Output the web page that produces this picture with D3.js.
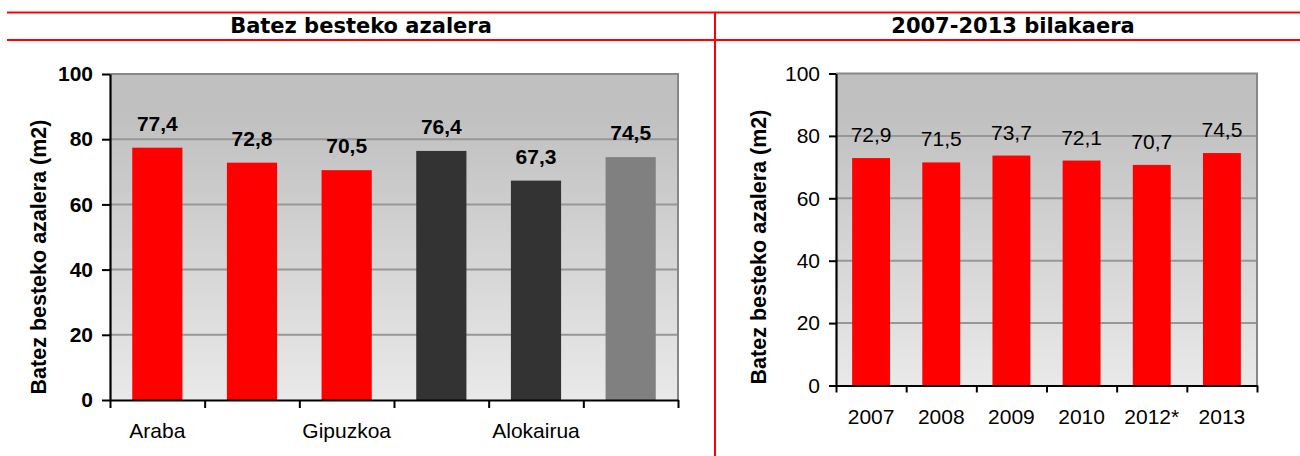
<!DOCTYPE html>
<html>
<head>
<meta charset="utf-8">
<script src="https://cdn.jsdelivr.net/npm/d3@7/dist/d3.min.js"></script>
<style>
  html, body { margin: 0; padding: 0; background: #ffffff; }
  svg { display: block; }
</style>
</head>
<body>
<svg id="chart" width="1300" height="456"></svg>
<script>
// ---- DATA ----
const panelTitles = ["Batez besteko azalera", "2007-2013 bilakaera"];
const yAxisTitle = "Batez besteko azalera (m2)";
const yTicks = [0, 20, 40, 60, 80, 100];

const leftCategories = ["Araba", "Bizkaia", "Gipuzkoa", "Jabetza", "Alokairua", "EAE"];
const leftValues = [77.4, 72.8, 70.5, 76.4, 67.3, 74.5];
const leftGroups = ["lurraldea", "lurraldea", "lurraldea", "erregimena", "erregimena", "guztira"];

const rightCategories = ["2007", "2008", "2009", "2010", "2012*", "2013"];
const rightValues = [72.9, 71.5, 73.7, 72.1, 70.7, 74.5];
const rightGroups = ["urtea", "urtea", "urtea", "urtea", "urtea", "urtea"];

// ---- STYLE ----
const groupColor = d3.scaleOrdinal()
  .domain(["lurraldea", "erregimena", "guztira", "urtea"])
  .range(["#ff0000", "#333333", "#808080", "#ff0000"]);

const locale = d3.formatLocale({ decimal: ",", thousands: ".", grouping: [3], currency: ["", "€"] });
const fmt = locale.format(".1f");

const svg = d3.select("#chart");
const FONT = "'Liberation Sans', Arial, sans-serif";

// gradient background
const defs = svg.append("defs");
const grad = defs.append("linearGradient").attr("id", "bg").attr("x1", 0).attr("y1", 0).attr("x2", 0).attr("y2", 1);
grad.append("stop").attr("offset", "0%").attr("stop-color", "#c0c0c0");
grad.append("stop").attr("offset", "12%").attr("stop-color", "#c0c0c0");
grad.append("stop").attr("offset", "100%").attr("stop-color", "#e9e9e9");

// header frame
const red = "#ff0000";
svg.append("line").attr("x1", 7).attr("x2", 1300).attr("y1", 12.5).attr("y2", 12.5).attr("stroke", red).attr("stroke-width", 2);
svg.append("line").attr("x1", 7).attr("x2", 1300).attr("y1", 40).attr("y2", 40).attr("stroke", red).attr("stroke-width", 2);
svg.append("line").attr("x1", 715).attr("x2", 715).attr("y1", 12).attr("y2", 456).attr("stroke", red).attr("stroke-width", 2);

svg.append("text").attr("x", 361).attr("y", 32.5).attr("text-anchor", "middle")
  .attr("font-family", "'DejaVu Sans', Verdana, sans-serif").attr("font-weight", "bold").attr("font-size", 21)
  .text(panelTitles[0]);
svg.append("text").attr("x", 1013).attr("y", 32.5).attr("text-anchor", "middle")
  .attr("font-family", "'DejaVu Sans', Verdana, sans-serif").attr("font-weight", "bold").attr("font-size", 21)
  .text(panelTitles[1]);

function drawPanel(cfg) {
  const g = svg.append("g");
  const x = d3.scaleBand().domain(cfg.categories).range([cfg.x0, cfg.x1])
    .paddingInner(cfg.pad).paddingOuter(cfg.pad / 2);
  const xEdges = d3.scaleLinear().domain([0, cfg.categories.length]).range([cfg.x0, cfg.x1]);
  const y = d3.scaleLinear().domain([0, 100]).range([cfg.yBottom, cfg.yTop]);

  // plot background
  g.append("rect").attr("x", cfg.x0).attr("y", y(100)).attr("width", cfg.x1 - cfg.x0)
    .attr("height", y(0) - y(100)).attr("fill", "url(#bg)");

  // gridlines
  g.selectAll(".grid").data(yTicks.filter(t => t > 0 && t < 100)).join("line")
    .attr("x1", cfg.x0).attr("x2", cfg.x1).attr("y1", d => y(d)).attr("y2", d => y(d))
    .attr("stroke", "#979797").attr("stroke-width", 2);

  // top and right border
  g.append("path").attr("d", `M${cfg.x0},${y(100)}H${cfg.x1}V${y(0)}`)
    .attr("fill", "none").attr("stroke", "#878787").attr("stroke-width", 2);

  // bars
  g.selectAll(".bar").data(cfg.values).join("rect")
    .attr("x", (d, i) => x(cfg.categories[i]))
    .attr("y", d => y(d))
    .attr("width", x.bandwidth())
    .attr("height", d => y(0) - y(d))
    .attr("fill", (d, i) => groupColor(cfg.groups[i]));

  // value labels
  g.selectAll(".vl").data(cfg.values).join("text")
    .attr("x", (d, i) => x(cfg.categories[i]) + x.bandwidth() / 2)
    .attr("y", d => y(d) - cfg.labelGap)
    .attr("text-anchor", "middle")
    .attr("font-family", FONT).attr("font-size", 21).attr("font-weight", cfg.labelWeight)
    .attr("fill", "#000")
    .text(d => fmt(d));

  // y axis
  const yAxis = g.append("g").attr("transform", `translate(${cfg.x0},0)`)
    .call(d3.axisLeft(y).tickValues(yTicks).tickSize(cfg.tick).tickPadding(9).tickSizeOuter(0));
  yAxis.select(".domain").attr("stroke", "#000").attr("stroke-width", 2.2);
  yAxis.selectAll(".tick line").attr("stroke", "#000").attr("stroke-width", 2);
  yAxis.selectAll(".tick text").attr("font-family", FONT).attr("font-size", 21)
    .attr("font-weight", cfg.tickWeight).attr("fill", "#000");

  // x axis (ticks at category boundaries)
  const xAxis = g.append("g").attr("transform", `translate(0,${y(0)})`)
    .call(d3.axisBottom(xEdges).tickValues(d3.range(cfg.categories.length + 1)).tickSize(cfg.tick).tickFormat("").tickSizeOuter(0));
  xAxis.select(".domain").attr("stroke", "#000").attr("stroke-width", 2.2);
  xAxis.selectAll(".tick line").attr("stroke", "#000").attr("stroke-width", 2);

  // x category labels
  g.selectAll(".xl").data(cfg.categories.filter((c, i) => i % cfg.labelEvery === 0)).join("text")
    .attr("x", d => x(d) + x.bandwidth() / 2)
    .attr("y", cfg.xLabelY)
    .attr("text-anchor", "middle")
    .attr("font-family", FONT).attr("font-size", 21).attr("fill", "#000")
    .text(d => d);

  // y axis title
  g.append("text")
    .attr("transform", `translate(${cfg.titleX},${cfg.titleY}) rotate(-90)`)
    .attr("text-anchor", "middle")
    .attr("font-family", FONT).attr("font-size", 21.5).attr("font-weight", "bold").attr("fill", "#000")
    .text(yAxisTitle);
}

drawPanel({
  categories: leftCategories, values: leftValues, groups: leftGroups,
  x0: 110, x1: 678, yTop: 74, yBottom: 400, pad: 0.47, tick: 8,
  labelGap: 17, labelWeight: "bold", tickWeight: "bold",
  xLabelY: 438, labelEvery: 2, titleX: 46, titleY: 257
});

drawPanel({
  categories: rightCategories, values: rightValues, groups: rightGroups,
  x0: 836, x1: 1257, yTop: 73.5, yBottom: 385.5, pad: 0.46, tick: 7,
  labelGap: 16, labelWeight: "normal", tickWeight: "normal",
  xLabelY: 424, labelEvery: 1, titleX: 766, titleY: 247
});
</script>
</body>
</html>
